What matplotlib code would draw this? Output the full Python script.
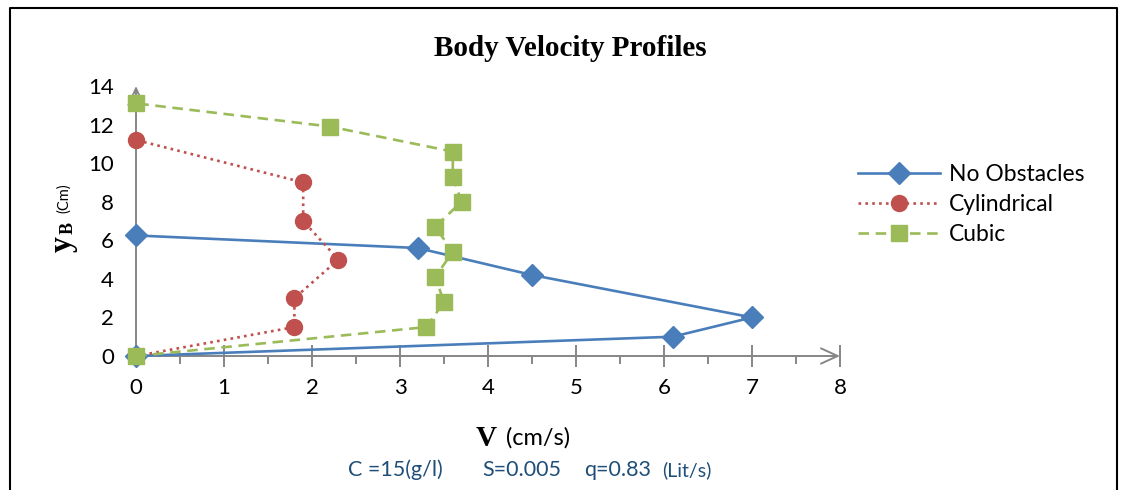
import matplotlib.pyplot as plt
from matplotlib.lines import Line2D

# data (V in cm/s, y_B in cm)
v_none = [0, 6.1, 7.0, 4.5, 3.2, 0]
y_none = [0, 1.0, 2.0, 4.2, 5.6, 6.25]

v_cyl = [0, 1.8, 1.8, 2.3, 1.9, 1.9, 0]
y_cyl = [0, 1.5, 3.0, 5.0, 7.0, 9.0, 11.2]

v_cub = [0, 3.3, 3.5, 3.4, 3.6, 3.4, 3.7, 3.6, 3.6, 2.2, 0]
y_cub = [0, 1.5, 2.8, 4.1, 5.4, 6.7, 8.0, 9.3, 10.6, 11.9, 13.1]

xticks = [0, 1, 2, 3, 4, 5, 6, 7, 8]
yticks = [0, 2, 4, 6, 8, 10, 12, 14]

W, H = 1127, 490
fig = plt.figure(figsize=(W/100, H/100), dpi=100)
sans = ['Lato', 'DejaVu Sans']
serif = 'Liberation Serif'
grey = '#868686'

ax = fig.add_axes([136/W, 1 - 356/H, (840-136)/W, (356-86)/H])
ax.set_xlim(0, 8)
ax.set_ylim(0, 14)

ax.plot(v_none, y_none, color='#4A7EBB', lw=1.9, marker='D', ms=11,
        label='No Obstacles', clip_on=False, zorder=3)
ax.plot(v_cyl, y_cyl, color='#C0504D', lw=1.9, ls=(0, (1, 1.6)), marker='o', ms=11.5,
        label='Cylindrical', clip_on=False, zorder=3)
ax.plot(v_cub, y_cub, color='#9BBB59', lw=1.9, ls=(0, (4, 2.5)), marker='s', ms=11,
        label='Cubic', clip_on=False, zorder=3)

for s in ax.spines.values():
    s.set_visible(False)

# axis lines with open arrow heads
arrow = dict(arrowstyle='->,head_length=1.2,head_width=0.55', color=grey, lw=1.4,
             shrinkA=0, shrinkB=0)
ax.annotate('', xy=(1, 0), xytext=(0, 0), xycoords='axes fraction', arrowprops=arrow, zorder=1)
ax.annotate('', xy=(0, 1), xytext=(0, 0), xycoords='axes fraction', arrowprops=arrow, zorder=1)

ax.set_xticks(xticks)
ax.set_xticks([x + 0.5 for x in xticks[:-1]], minor=True)
ax.set_yticks(yticks)
ax.tick_params(axis='x', which='major', direction='inout', length=16, width=1.4,
               color=grey, pad=8, labelsize=16)
ax.tick_params(axis='x', which='minor', direction='out', length=6, width=1.4, color=grey)
ax.tick_params(axis='y', length=0, pad=16, labelsize=16)
for lab in ax.get_xticklabels() + ax.get_yticklabels():
    lab.set_fontfamily(sans)

leg = ax.legend(loc='upper left', bbox_to_anchor=(837/W, 1 - 143/H), bbox_transform=fig.transFigure,
                frameon=False, handlelength=3.6, handletextpad=0.4, labelspacing=0.4,
                prop={'family': sans, 'size': 16.5})

fig.text(570/W, 1 - 48/H, 'Body Velocity Profiles', ha='center', va='center',
         family=serif, weight='bold', fontsize=21)

# y label
fig.text(63/W, 1 - 244/H, 'y', rotation=90, ha='center', va='center',
         family=serif, weight='bold', fontsize=23)
fig.text(68/W, 1 - 228/H, 'B', rotation=90, ha='center', va='center',
         family=serif, weight='bold', fontsize=13)
fig.text(64/W, 1 - 198/H, '(Cm)', rotation=90, ha='center', va='center',
         family=sans, fontsize=10.5)

# x label
fig.text(497/W, 1 - 438/H, 'V', ha='right', va='center', family=serif, weight='bold', fontsize=21)
fig.text(506/W, 1 - 438/H, '(cm/s)', ha='left', va='center', family=sans, fontsize=17)

# conditions line
blue = '#1F4E79'
fig.text(443/W, 1 - 470/H, 'C =15(g/l)', ha='right', va='center', family=sans, fontsize=15.5, color=blue)
fig.text(482/W, 1 - 470/H, 'S=0.005', ha='left', va='center', family=sans, fontsize=15.5, color=blue)
fig.text(584/W, 1 - 470/H, 'q=0.83', ha='left', va='center', family=sans, fontsize=15.5, color=blue)
fig.text(662/W, 1 - 470/H, '(Lit/s)', ha='left', va='center', family=sans, fontsize=14, color=blue)

# outer frame (left, top, right)
fx = [10/W, 10/W, 1117/W, 1117/W]
fy = [0, 1 - 8/H, 1 - 8/H, 0]
fig.add_artist(Line2D(fx, fy, transform=fig.transFigure, color='black', lw=1.5))

fig.savefig('out.png', dpi=100)
